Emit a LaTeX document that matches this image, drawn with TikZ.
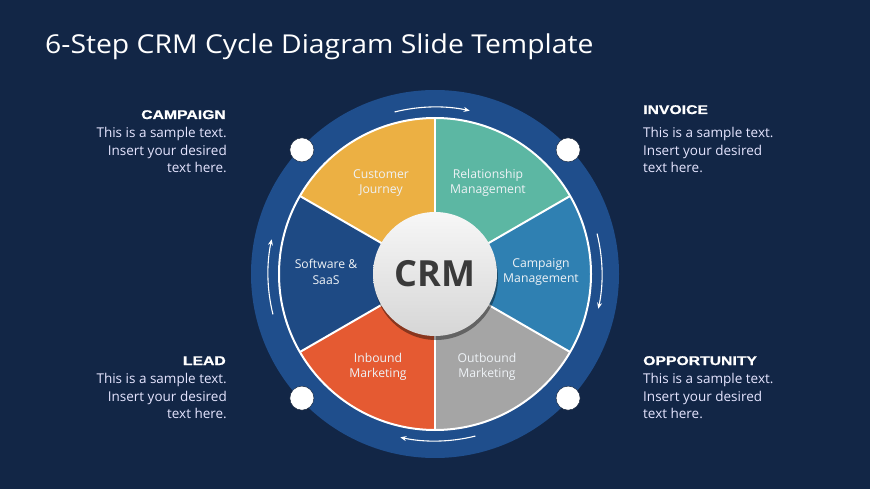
\documentclass[tikz,border=0pt]{standalone}
\usepackage{fontspec}
\setmainfont{Open Sans}
\newfontfamily\titlefont[FakeStretch=1.09]{Open Sans}
\newfontfamily\headfont[FakeStretch=1.25,FakeBold=1]{Liberation Sans}
\usetikzlibrary{arrows.meta,shadows}
\definecolor{bgc}{RGB}{18,38,70}
\definecolor{ringc}{RGB}{31,78,140}
\definecolor{segyellow}{RGB}{236,176,67}
\definecolor{segteal}{RGB}{92,183,163}
\definecolor{segblue}{RGB}{47,128,178}
\definecolor{seggray}{RGB}{165,165,165}
\definecolor{segorange}{RGB}{229,90,50}
\definecolor{segdark}{RGB}{30,74,132}
\definecolor{segtext}{RGB}{238,242,246}
\definecolor{crmtext}{RGB}{58,58,58}
\tikzset{
  titletext/.style={anchor=base west,inner sep=0pt,text=white,font=\titlefont\fontsize{26}{30}\selectfont},
  headtext/.style={inner sep=0pt,text=white,font=\headfont\bfseries\fontsize{12.6}{15}\selectfont},
  bodytext/.style={inner sep=0pt,text=white!90!blue,font=\fontsize{13.5}{17.5}\selectfont},
  seglabel/.style={inner sep=0pt,align=center,text=segtext,font=\fontsize{12.2}{15.5}\selectfont},
  dotnode/.style={circle,fill=white,draw=bgc!70!black,line width=0.4pt,minimum size=24pt,inner sep=0pt},
  cyclearrow/.style={draw=white,line width=1.1pt,-{Stealth[length=6pt,width=5pt]}},
  sepline/.style={draw=white,line width=2pt}
}
\begin{document}
\begin{tikzpicture}[x=1pt,y=1pt]
\fill[bgc] (0,0) rectangle (870,-489);
\useasboundingbox (0,0) rectangle (870,-489);

\node[titletext] (title) at (45,-54) {6-Step CRM Cycle Diagram Slide Template};

% left side texts
\node[headtext,anchor=base east] (h1) at (226,-119) {CAMPAIGN};
\node[bodytext,anchor=north east,align=right] (b1) at (227,-127.5) {This is a sample text.\\Insert your desired\\text here.};
\node[headtext,anchor=base east] (h3) at (226,-365) {LEAD};
\node[bodytext,anchor=north east,align=right] (b3) at (227,-373.5) {This is a sample text.\\Insert your desired\\text here.};
% right side texts
\node[headtext,anchor=base west] (h2) at (643,-114) {INVOICE};
\node[bodytext,anchor=north west,align=left] (b2) at (643,-127.5) {This is a sample text.\\Insert your desired\\text here.};
\node[headtext,anchor=base west] (h4) at (643,-365) {OPPORTUNITY};
\node[bodytext,anchor=north west,align=left] (b4) at (643,-373.5) {This is a sample text.\\Insert your desired\\text here.};

\begin{scope}[shift={(435,-274)}]
  % outer ring
  \fill[ringc] (0,0) circle[radius=184pt];
  % segments
  \fill[segteal]   (0,0) -- (30:156pt)  arc[start angle=30, end angle=90, radius=156pt] -- cycle;
  \fill[segyellow] (0,0) -- (90:156pt)  arc[start angle=90, end angle=150, radius=156pt] -- cycle;
  \fill[segdark]   (0,0) -- (150:156pt) arc[start angle=150,end angle=210,radius=156pt] -- cycle;
  \fill[segorange] (0,0) -- (210:156pt) arc[start angle=210,end angle=270,radius=156pt] -- cycle;
  \fill[seggray]   (0,0) -- (270:156pt) arc[start angle=270,end angle=330,radius=156pt] -- cycle;
  \fill[segblue]   (0,0) -- (-30:156pt) arc[start angle=-30,end angle=30, radius=156pt] -- cycle;
  \foreach \a in {30,90,150,210,270,330} \draw[sepline] (0,0) -- (\a:156pt);
  \draw[sepline] (0,0) circle[radius=156pt];
  % cycle arrows
  \draw[cyclearrow] (104:167pt) arc[start angle=104,end angle=78,radius=167pt];
  \draw[cyclearrow] (14:167pt) arc[start angle=14,end angle=-12,radius=167pt];
  \draw[cyclearrow] (-76:167pt) arc[start angle=-76,end angle=-102,radius=167pt];
  \draw[cyclearrow] (194:167pt) arc[start angle=194,end angle=168,radius=167pt];
  % dots
  \node[dotnode] (d1) at (137:182pt) {};
  \node[dotnode] (d2) at (43:182pt) {};
  \node[dotnode] (d3) at (-137:182pt) {};
  \node[dotnode] (d4) at (-43:182pt) {};
  % centre
  \node[circle,minimum size=124pt,inner sep=0pt,top color={rgb,255:red,247;green,247;blue,247},bottom color={rgb,255:red,214;green,214;blue,214},
        drop shadow={shadow xshift=1pt,shadow yshift=-4pt,opacity=0.4,fill=black},
        text=crmtext,font=\bfseries\fontsize{36}{40}\selectfont] (crm) at (0,0) {CRM};
\end{scope}

% segment labels
\node[seglabel] (s1) at (381,-183) {Customer\\Journey};
\node[seglabel] (s2) at (488,-183) {Relationship\\Management};
\node[seglabel] (s3) at (326,-272) {Software \&\\SaaS};
\node[seglabel] (s4) at (541,-272) {Campaign\\Management};
\node[seglabel] (s5) at (378,-367) {Inbound\\Marketing};
\node[seglabel] (s6) at (487,-367) {Outbound\\Marketing};
\end{tikzpicture}
\end{document}
